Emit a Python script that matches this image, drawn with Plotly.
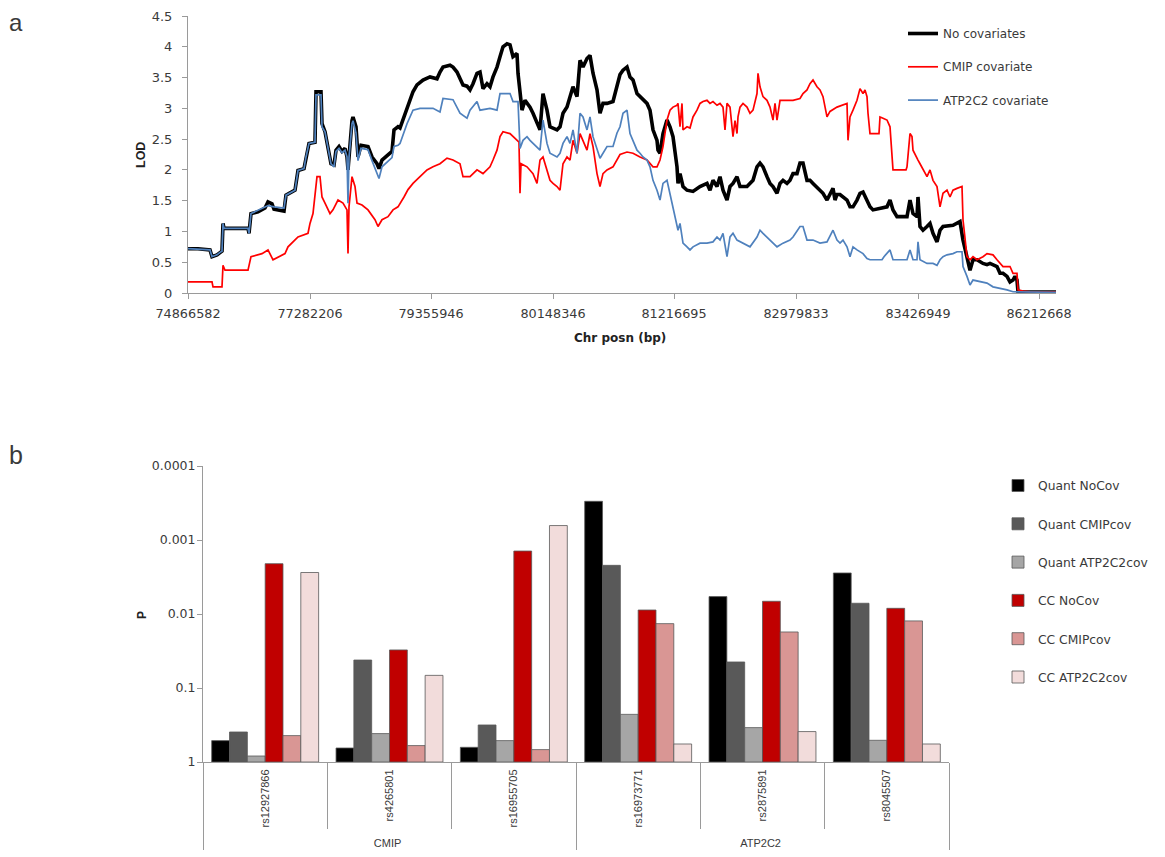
import plotly.graph_objects as go

# ---------------- Panel a data (LOD along chromosome, category-index positions) ----------------
pos_tick_index = [0, 122, 243, 365, 486, 608, 730, 851]
pos_tick_labels = ["74866582", "77282206", "79355946", "80148346",
                   "81216695", "82979833", "83426949", "86212668"]

nocov_x = [0, 10, 22, 24, 29, 32, 34, 35, 36, 60, 61, 63, 70, 77, 80, 84, 86, 96, 98, 107, 110, 116, 118,
           121, 127, 128, 133, 134, 137, 140, 143, 146, 148, 151, 154, 157, 159, 160, 161, 164, 165, 168,
           170, 173, 180, 184, 189, 191, 194, 200, 204, 206, 210, 212, 215, 219, 222, 225, 229, 232, 235,
           242, 249, 252, 255, 262, 265, 269, 272, 275, 279, 282, 285, 289, 292, 295, 299, 302, 305, 309,
           312, 315, 319, 322, 325, 329, 330, 332, 334, 337, 342, 345, 349, 352, 355, 359, 362, 365, 369,
           372, 375, 379, 382, 385, 389, 392, 395, 399, 402, 405, 409, 412, 415, 419, 425, 429, 432, 435,
           439, 442, 445, 449, 452, 455, 459, 462, 465, 469, 470, 472, 475, 479, 482, 485, 489, 490, 492,
           495, 499, 505, 512, 519, 522, 525, 529, 532, 535, 539, 542, 545, 549, 552, 559, 565, 569, 572,
           575, 579, 582, 585, 589, 592, 595, 599, 602, 605, 609, 612, 615, 619, 622, 625, 632, 635, 639,
           642, 645, 647, 649, 652, 655, 659, 662, 665, 669, 672, 675, 679, 682, 685, 692, 699, 702, 705,
           709, 719, 722, 725, 729, 730, 732, 735, 739, 742, 745, 749, 752, 755, 765, 769, 772, 775, 779,
           782, 785, 789, 795, 799, 802, 809, 812, 815, 819, 822, 825, 827, 829, 830, 860, 868]
nocov_lod = [0.72, 0.72, 0.70, 0.59, 0.62, 0.66, 0.68, 1.13, 1.05, 1.05, 0.97, 1.29, 1.32, 1.38, 1.48, 1.45,
             1.36, 1.33, 1.59, 1.67, 1.99, 2.02, 2.21, 2.43, 2.45, 3.27, 3.27, 2.75, 2.62, 2.38, 2.10, 2.08,
             2.32, 2.38, 2.30, 2.35, 2.21, 2.00, 2.25, 2.80, 2.86, 2.70, 2.21, 2.40, 2.38, 2.21, 2.10, 2.02,
             2.16, 2.24, 2.30, 2.65, 2.70, 2.68, 2.81, 2.97, 3.10, 3.27, 3.38, 3.43, 3.46, 3.51, 3.48, 3.59,
             3.67, 3.70, 3.67, 3.59, 3.48, 3.38, 3.36, 3.30, 3.40, 3.57, 3.59, 3.32, 3.40, 3.35, 3.51, 3.67,
             3.84, 4.00, 4.05, 4.03, 3.84, 3.89, 3.57, 3.19, 2.97, 3.13, 3.02, 2.92, 2.78, 2.65, 3.24, 2.97,
             2.70, 2.68, 2.65, 2.70, 2.92, 3.02, 3.19, 3.35, 3.19, 3.78, 3.67, 3.81, 3.86, 3.57, 3.30, 2.92,
             3.08, 3.08, 3.11, 3.35, 3.55, 3.62, 3.67, 3.51, 3.46, 3.24, 3.19, 3.13, 3.08, 2.97, 2.65, 2.48,
             2.32, 2.27, 2.59, 2.81, 2.70, 2.54, 2.05, 1.78, 1.94, 1.73, 1.67, 1.65, 1.73, 1.78, 1.67, 1.83,
             1.73, 1.89, 1.67, 1.51, 1.73, 1.78, 1.89, 1.73, 1.73, 1.83, 2.05, 2.11, 2.05, 1.89, 1.78, 1.73,
             1.62, 1.78, 1.83, 1.78, 1.83, 1.94, 1.94, 2.11, 2.11, 1.83, 1.83, 1.78, 1.67, 1.62, 1.51, 1.62,
             1.70, 1.51, 1.60, 1.60, 1.56, 1.51, 1.40, 1.40, 1.51, 1.62, 1.64, 1.51, 1.40, 1.35, 1.37, 1.40,
             1.51, 1.35, 1.24, 1.24, 1.51, 1.29, 1.24, 1.56, 1.08, 1.02, 1.08, 1.13, 0.97, 0.83, 1.02, 1.08,
             1.10, 1.13, 1.16, 0.86, 0.59, 0.37, 0.54, 0.54, 0.48, 0.46, 0.48, 0.43, 0.32, 0.32, 0.27, 0.18,
             0.21, 0.27, 0.21, 0.02, 0.016, 0.016]

cmip_x = [0, 24, 25, 34, 35, 37, 60, 63, 74, 80, 85, 97, 100, 110, 120, 122, 125, 129, 132, 134, 137, 142,
          145, 150, 155, 157, 159, 160, 161, 164, 167, 169, 174, 180, 187, 190, 194, 200, 205, 210, 212, 216,
          220, 225, 232, 239, 245, 252, 259, 265, 272, 275, 282, 289, 295, 302, 305, 309, 312, 315, 322, 329,
          331, 332, 333, 339, 345, 349, 352, 355, 359, 362, 365, 369, 372, 375, 379, 382, 385, 389, 392, 395,
          399, 402, 405, 409, 412, 415, 419, 425, 432, 439, 445, 452, 459, 465, 469, 472, 475, 479, 482, 485,
          489, 490, 492, 494, 495, 499, 502, 505, 509, 512, 515, 519, 522, 525, 529, 532, 535, 537, 539, 542,
          544, 545, 547, 549, 550, 552, 555, 559, 562, 565, 569, 570, 572, 575, 579, 582, 585, 587, 589, 592,
          599, 605, 612, 615, 619, 622, 625, 629, 632, 635, 639, 642, 649, 655, 659, 660, 662, 665, 669, 672,
          675, 677, 679, 680, 682, 691, 692, 695, 699, 702, 705, 718, 719, 722, 724, 725, 729, 730, 732, 735,
          739, 742, 745, 749, 752, 755, 759, 762, 765, 769, 774, 775, 779, 782, 785, 789, 795, 799, 805, 809,
          812, 815, 822, 825, 829, 830, 835, 842, 868]
cmip_lod = [0.18, 0.18, 0.10, 0.10, 0.45, 0.37, 0.37, 0.59, 0.64, 0.70, 0.54, 0.64, 0.75, 0.91, 0.97, 1.13,
            1.29, 1.89, 1.89, 1.56, 1.46, 1.29, 1.35, 1.51, 1.46, 1.40, 1.35, 0.64, 1.40, 1.89, 1.73, 1.46,
            1.43, 1.35, 1.19, 1.08, 1.19, 1.24, 1.35, 1.40, 1.45, 1.56, 1.68, 1.78, 1.89, 2.00, 2.05, 2.10,
            2.19, 2.16, 2.10, 1.89, 1.89, 2.00, 1.94, 2.05, 2.16, 2.32, 2.54, 2.62, 2.59, 2.48, 2.45, 1.62,
            2.10, 2.05, 1.94, 1.78, 2.16, 2.21, 2.00, 1.83, 1.78, 1.73, 1.67, 2.10, 2.21, 2.16, 2.48, 2.27,
            2.59, 2.48, 2.32, 2.59, 2.38, 1.94, 1.73, 1.94, 2.00, 2.05, 2.25, 2.29, 2.27, 2.21, 2.16, 2.05,
            2.05, 2.16, 2.38, 2.81, 2.97, 3.02, 3.05, 3.08, 2.70, 3.08, 2.65, 2.70, 2.68, 2.86, 2.97, 3.08,
            3.11, 3.13, 3.08, 3.11, 3.05, 3.08, 3.02, 2.65, 3.08, 3.02, 2.70, 2.54, 2.80, 2.59, 2.86, 3.02,
            3.08, 3.02, 2.92, 2.97, 3.24, 3.57, 3.35, 3.19, 3.13, 3.02, 2.81, 3.08, 2.81, 3.13, 3.13, 3.13,
            3.16, 3.24, 3.30, 3.40, 3.46, 3.35, 3.30, 3.19, 2.86, 2.95, 3.02, 3.05, 3.08, 2.48, 2.86, 2.97,
            3.13, 3.32, 3.24, 3.30, 3.19, 2.92, 2.59, 2.59, 2.86, 2.84, 2.81, 2.70, 2.00, 2.00, 2.05, 2.59,
            2.54, 2.32, 2.21, 2.16, 2.10, 2.00, 1.89, 2.00, 1.83, 1.73, 1.40, 1.62, 1.67, 1.56, 1.67, 1.70,
            1.73, 1.19, 0.59, 0.54, 0.59, 0.54, 0.59, 0.64, 0.62, 0.54, 0.48, 0.43, 0.43, 0.32, 0.32, 0.05,
            0.03, 0.02, 0.016]

atp_x = [0, 22, 24, 29, 32, 34, 35, 36, 60, 61, 63, 70, 77, 80, 86, 96, 98, 107, 110, 116, 118, 121, 127,
         128, 133, 134, 137, 140, 143, 146, 148, 151, 154, 157, 159, 160, 161, 164, 165, 168, 170, 173, 180,
         184, 189, 191, 194, 200, 204, 206, 210, 212, 219, 225, 232, 245, 252, 255, 265, 272, 279, 282, 289,
         292, 302, 309, 312, 322, 325, 330, 332, 335, 339, 342, 345, 352, 355, 359, 362, 365, 369, 372, 375,
         379, 382, 385, 389, 392, 395, 399, 402, 405, 409, 412, 419, 425, 429, 432, 435, 439, 442, 445, 449,
         452, 455, 459, 462, 465, 469, 472, 475, 479, 482, 484, 485, 489, 490, 492, 495, 499, 502, 505, 512,
         519, 525, 529, 532, 535, 539, 542, 545, 549, 555, 562, 569, 572, 575, 582, 589, 595, 602, 605, 612,
         615, 619, 625, 632, 639, 642, 645, 649, 652, 655, 659, 662, 665, 669, 672, 675, 679, 682, 694, 696,
         702, 705, 719, 722, 725, 729, 730, 732, 739, 745, 749, 752, 755, 759, 765, 769, 774, 775, 779, 782,
         785, 792, 799, 805, 812, 819, 825, 868]
atp_lod = [0.72, 0.70, 0.59, 0.62, 0.66, 0.68, 1.13, 1.05, 1.05, 0.97, 1.29, 1.34, 1.40, 1.42, 1.40, 1.38,
           1.59, 1.67, 1.99, 2.02, 2.21, 2.43, 2.45, 3.22, 3.22, 2.70, 2.62, 2.38, 2.10, 2.05, 2.30, 2.35,
           2.28, 2.32, 2.21, 1.46, 2.20, 2.75, 2.80, 2.60, 2.15, 2.35, 2.33, 2.15, 1.95, 1.86, 2.05, 2.15,
           2.20, 2.38, 2.40, 2.43, 2.75, 2.97, 3.00, 3.00, 2.94, 3.16, 3.14, 2.92, 2.84, 2.97, 3.11, 2.97,
           3.00, 2.97, 3.24, 3.24, 3.11, 3.11, 2.35, 2.48, 2.54, 2.48, 2.43, 2.32, 2.81, 2.43, 2.27, 2.24,
           2.21, 2.27, 2.43, 2.54, 2.43, 2.65, 2.27, 2.92, 2.86, 2.65, 2.86, 2.54, 2.32, 2.19, 2.38, 2.38,
           2.60, 2.70, 2.92, 2.97, 2.59, 2.48, 2.32, 2.27, 2.21, 2.16, 2.05, 1.83, 1.67, 1.51, 1.78, 1.83,
           1.62, 1.46, 1.40, 1.13, 1.02, 1.13, 0.81, 0.75, 0.70, 0.75, 0.81, 0.81, 0.83, 0.91, 0.86, 0.97,
           0.59, 0.91, 0.97, 0.86, 0.81, 0.75, 0.91, 1.02, 0.97, 0.86, 0.75, 0.81, 0.86, 0.91, 1.08, 1.08,
           0.86, 0.86, 0.81, 0.83, 0.92, 1.02, 0.86, 0.81, 0.86, 0.75, 0.59, 0.75, 0.70, 0.67, 0.64, 0.56,
           0.54, 0.54, 0.59, 0.70, 0.54, 0.54, 0.70, 0.54, 0.54, 0.83, 0.54, 0.48, 0.48, 0.45, 0.54, 0.59,
           0.62, 0.64, 0.67, 0.67, 0.43, 0.27, 0.13, 0.21, 0.19, 0.16, 0.10, 0.08, 0.05, 0.02, 0.01]

# ---------------- Panel b data (association P values) ----------------
genes = ["CMIP", "CMIP", "CMIP", "ATP2C2", "ATP2C2", "ATP2C2"]
snps = ["rs12927866", "rs4265801", "rs16955705", "rs16973771", "rs2875891", "rs8045507"]
bar_series = ["Quant NoCov", "Quant CMIPcov", "Quant ATP2C2cov", "CC NoCov", "CC CMIPcov", "CC ATP2C2cov"]
p_quant_nocov = [0.514, 0.647, 0.633, 0.00030, 0.00582, 0.00279]
p_quant_cmipcov = [0.393, 0.0419, 0.316, 0.0022, 0.0445, 0.00716]
p_quant_atpcov = [0.83, 0.413, 0.514, 0.227, 0.343, 0.509]
p_cc_nocov = [0.00209, 0.0306, 0.00141, 0.00883, 0.00673, 0.00838]
p_cc_cmipcov = [0.44, 0.60, 0.68, 0.0135, 0.0175, 0.0124]
p_cc_atpcov = [0.00275, 0.0675, 0.000638, 0.571, 0.388, 0.571]
p_ticks = [1, 0.1, 0.01, 0.001, 0.0001]
p_tick_labels = ["1", "0.1", "0.01", "0.001", "0.0001"]

# ---------------- styling ----------------
PAGE_W, PAGE_H = 1165, 857
BODY = 8                      # default page margin around the figure div
W, H = PAGE_W - BODY, PAGE_H - BODY
FONT = "Liberation Sans, Arial, sans-serif"
WIDE = "DejaVu Sans, Verdana, sans-serif"
AXIS_GRAY = "#9a9a9a"
TEXT = "#3a3a3a"


def px_x(p):
    return (p - BODY) / W


def px_y(p):
    return 1 - (p - BODY) / H


fig = go.Figure()

line_specs = [
    ("No covariates", nocov_x, nocov_lod, "#000000", 3.6),
    ("CMIP covariate", cmip_x, cmip_lod, "#ff0000", 1.7),
    ("ATP2C2 covariate", atp_x, atp_lod, "#4f81bd", 1.7),
]
for name, xs, ys, col, w in line_specs:
    fig.add_trace(go.Scatter(
        x=xs, y=ys, mode="lines", name=name, line=dict(color=col, width=w),
        xaxis="x", yaxis="y", legend="legend", legendgroup=name,
        hovertemplate="LOD %{y}<extra>" + name + "</extra>",
    ))

bar_values = [p_quant_nocov, p_quant_cmipcov, p_quant_atpcov, p_cc_nocov, p_cc_cmipcov, p_cc_atpcov]
bar_colors = ["#000000", "#595959", "#a6a6a6", "#c00000", "#d99694", "#f2dcdb"]
for name, vals, col in zip(bar_series, bar_values, bar_colors):
    fig.add_trace(go.Bar(
        x=[genes, snps], y=[v - 1 for v in vals], base=1, customdata=vals,
        name=name, marker=dict(color=col, line=dict(color="#595959", width=0.8)),
        xaxis="x2", yaxis="y2", legend="legend2", legendgroup=name,
        hovertemplate="%{x}<br>P = %{customdata}<extra>" + name + "</extra>",
    ))


def label(text, x, y, size, family=WIDE, angle=0, color=TEXT, yanchor="middle"):
    return dict(text=text, x=px_x(x), y=px_y(y), xref="paper", yref="paper", showarrow=False,
                xanchor="center", yanchor=yanchor, textangle=angle, borderpad=0,
                font=dict(size=size, family=family, color=color))


fig.update_layout(
    width=W, height=H, margin=dict(l=0, r=0, t=0, b=0, autoexpand=False),
    paper_bgcolor="white", plot_bgcolor="white",
    font=dict(family=FONT, color=TEXT),
    barmode="group", bargap=0.14, bargroupgap=0,
    xaxis=dict(
        domain=[px_x(188), px_x(1056)], range=[0, 868], anchor="y", automargin=False,
        showline=True, linecolor=AXIS_GRAY, linewidth=1, showgrid=False, zeroline=False,
        ticks="outside", ticklen=5, tickcolor=AXIS_GRAY,
        tickvals=pos_tick_index, ticktext=pos_tick_labels,
        tickfont=dict(size=12.8, family=WIDE, color=TEXT), ticklabelstandoff=4,
    ),
    yaxis=dict(
        domain=[px_y(293), px_y(16)], range=[0, 4.5], anchor="x", automargin=False,
        showline=True, linecolor=AXIS_GRAY, linewidth=1, showgrid=False, zeroline=False,
        ticks="outside", ticklen=5, tickcolor=AXIS_GRAY, dtick=0.5,
        tickfont=dict(size=13, family=WIDE, color=TEXT), ticklabelstandoff=7,
    ),
    xaxis2=dict(
        domain=[px_x(203), px_x(949)], anchor="y2", type="multicategory", automargin=False,
        showline=True, linecolor=AXIS_GRAY, linewidth=1, showgrid=False,
        ticks="outside", ticklen=66, tickcolor=AXIS_GRAY, tickangle=-90,
        ticklabelstandoff=2,
        showdividers=True, dividercolor=AXIS_GRAY, dividerwidth=1,
        tickfont=dict(size=11, family=FONT, color=TEXT),
    ),
    yaxis2=dict(
        domain=[px_y(762), px_y(466)], type="log", range=[0, -4], anchor="x2", automargin=False,
        showline=True, linecolor=AXIS_GRAY, linewidth=1, showgrid=False, zeroline=False,
        ticks="outside", ticklen=5, tickcolor=AXIS_GRAY,
        tickvals=p_ticks, ticktext=p_tick_labels,
        tickfont=dict(size=12.5, family=WIDE, color=TEXT), ticklabelstandoff=-1,
    ),
    legend=dict(
        x=px_x(903), y=px_y(19), xanchor="left", yanchor="top",
        font=dict(size=12, color=TEXT, family=WIDE), tracegroupgap=14.3,
        bgcolor="rgba(0,0,0,0)", itemwidth=30,
    ),
    legend2=dict(
        x=px_x(998), y=px_y(471), xanchor="left", yanchor="top",
        font=dict(size=12.3, color=TEXT, family=WIDE), tracegroupgap=19.3,
        bgcolor="rgba(0,0,0,0)", itemwidth=30,
    ),
    annotations=[
        label("a", 16, 8, 24, family=FONT, yanchor="top"),
        label("b", 16, 455, 25, family=FONT),
        label("<b>LOD</b>", 141, 155, 12.5, family=FONT, angle=-90, color="#222"),
        label("<b>Chr posn (bp)</b>", 620, 338, 12, color="#222"),
        label("<b>P</b>", 142, 615, 12, family=FONT, angle=-90, color="#222"),
    ],
)

fig.write_html("out.html")
